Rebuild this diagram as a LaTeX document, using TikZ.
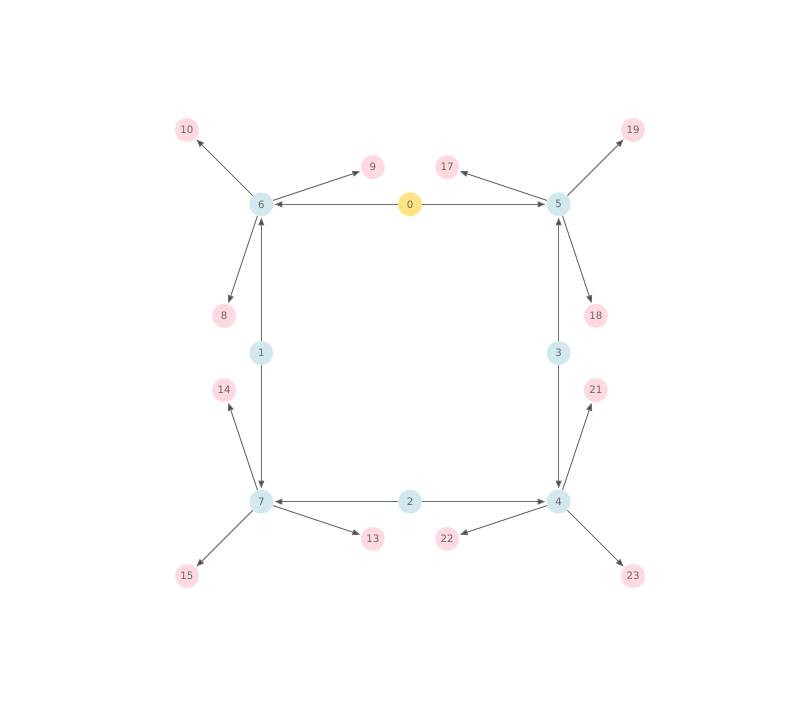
\documentclass[tikz,border=0pt]{standalone}
\usepackage{fontspec}
\setsansfont{DejaVu Sans}
\usepackage{tikz}
\usetikzlibrary{arrows.meta,calc,positioning}
\usepackage{xcolor}
\definecolor{hubyellow}{HTML}{FFE57F}
\definecolor{coreblue}{HTML}{D1E8EF}
\definecolor{leafpink}{HTML}{FFD9DF}
\definecolor{labelgray}{HTML}{666666}
\definecolor{edgegray}{HTML}{707070}
\definecolor{tipgray}{HTML}{444444}

\begin{document}
\begin{tikzpicture}[x=0.7434cm,y=0.7434cm,
	  every node/.style={align=center,text=labelgray,draw=none,font=\sffamily\fontsize{5.8}{6}\selectfont},
	  hub/.style={circle,fill=hubyellow,minimum size=0.48cm,inner sep=0pt},
	  core/.style={circle,fill=coreblue,minimum size=0.48cm,inner sep=0pt},
	  leaf/.style={circle,fill=leafpink,minimum size=0.48cm,inner sep=0pt},
	  to/.style={-{Triangle[length=4.5pt,width=3.4pt,fill=tipgray]},shorten >=0.5pt,draw=edgegray,line width=0.6pt}]

	  % fix the margins of the page
	  \useasboundingbox (-8.2cm,-6.94cm) rectangle (7.8cm,7.06cm);

	  % hub and square of core nodes
	  \node[hub] (n0) at (0,4) {0};
	  \node[core] (n6) at (-4,4) {6};
	  \node[core] (n5) at (4,4) {5};
	  \node[core] (n1) at (-4,0) {1};
	  \node[core] (n3) at (4,0) {3};
	  \node[core] (n7) at (-4,-4) {7};
	  \node[core] (n2) at (0,-4) {2};
	  \node[core] (n4) at (4,-4) {4};

	  % leaves
	  \node[leaf] (n10) at (-6,6) {10};
	  \node[leaf] (n9) at (-1,5) {9};
	  \node[leaf] (n17) at (1,5) {17};
	  \node[leaf] (n19) at (6,6) {19};
	  \node[leaf] (n8) at (-5,1) {8};
	  \node[leaf] (n18) at (5,1) {18};
	  \node[leaf] (n14) at (-5,-1) {14};
	  \node[leaf] (n21) at (5,-1) {21};
	  \node[leaf] (n15) at (-6,-6) {15};
	  \node[leaf] (n13) at (-1,-5) {13};
	  \node[leaf] (n22) at (1,-5) {22};
	  \node[leaf] (n23) at (6,-6) {23};

	  \draw[to] (n0) -- (n6);
	  \draw[to] (n0) -- (n5);
	  \draw[to] (n1) -- (n6);
	  \draw[to] (n1) -- (n7);
	  \draw[to] (n3) -- (n5);
	  \draw[to] (n3) -- (n4);
	  \draw[to] (n2) -- (n7);
	  \draw[to] (n2) -- (n4);

	  \draw[to] (n6) -- (n10);
	  \draw[to] (n6) -- (n9);
	  \draw[to] (n6) -- (n8);
	  \draw[to] (n5) -- (n17);
	  \draw[to] (n5) -- (n19);
	  \draw[to] (n5) -- (n18);
	  \draw[to] (n7) -- (n14);
	  \draw[to] (n7) -- (n15);
	  \draw[to] (n7) -- (n13);
	  \draw[to] (n4) -- (n21);
	  \draw[to] (n4) -- (n22);
	  \draw[to] (n4) -- (n23);
\end{tikzpicture}
\end{document}
